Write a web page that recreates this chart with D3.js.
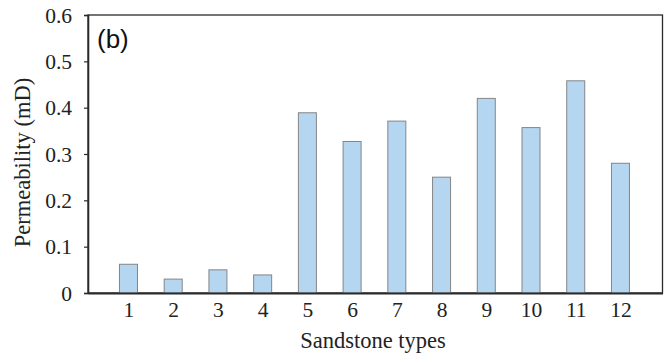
<!DOCTYPE html>
<html>
<head>
<meta charset="utf-8">
<script src="https://cdn.jsdelivr.net/npm/d3@7"></script>
<style>
  body { margin: 0; background: #fff; }
</style>
</head>
<body>
<div id="chart"></div>
<script>
const categories = ['1', '2', '3', '4', '5', '6', '7', '8', '9', '10', '11', '12'];
const permeability = [0.062, 0.030, 0.050, 0.039, 0.389, 0.327, 0.371, 0.250, 0.420, 0.357, 0.458, 0.280];
const yTicks = [0, 0.1, 0.2, 0.3, 0.4, 0.5, 0.6];

const serif = '"Liberation Serif", "Times New Roman", serif';
const svgWidth = 666, svgHeight = 354;
const margin = {top: 15, right: 3.5, bottom: 61, left: 88};
const width = svgWidth - margin.left - margin.right;
const height = svgHeight - margin.top - margin.bottom;

const svg = d3.select('#chart').append('svg')
  .attr('width', svgWidth)
  .attr('height', svgHeight);

const g = svg.append('g')
  .attr('transform', `translate(${margin.left},${margin.top})`);

// categories sit at 1..12, axis runs a bit past both ends
const xScale = d3.scaleLinear()
  .domain([0.095, 12.94])
  .range([0, width]);

const yScale = d3.scaleLinear()
  .domain([0, 0.6])
  .range([height, 0]);

const barWidth = 18;

// frame
g.append('rect')
  .attr('x', 0).attr('y', 0)
  .attr('width', width).attr('height', height)
  .attr('fill', 'none')
  .attr('stroke', '#2a2a2a')
  .attr('stroke-width', 1.3);

g.selectAll('.bar')
  .data(permeability)
  .enter().append('rect')
  .attr('class', 'bar')
  .attr('x', (d, i) => xScale(i + 1) - barWidth / 2)
  .attr('width', barWidth)
  .attr('y', d => yScale(d))
  .attr('height', d => height - yScale(d))
  .attr('fill', '#b5d6f0')
  .attr('stroke', '#858585')
  .attr('stroke-width', 1);

// y axis
const yAxis = d3.axisLeft(yScale)
  .tickValues(yTicks)
  .tickSize(4)
  .tickPadding(12)
  .tickFormat(d => d === 0 ? '0' : d3.format('.1f')(d));

g.append('g')
  .attr('class', 'y axis')
  .call(yAxis)
  .call(a => a.select('.domain').attr('stroke', '#2a2a2a').attr('stroke-width', 1.6))
  .call(a => a.selectAll('.tick line').attr('stroke', '#2a2a2a').attr('stroke-width', 1.2))
  .call(a => a.selectAll('.tick text')
    .attr('font-family', serif)
    .attr('font-size', 21.5)
    .attr('fill', '#222')
    .attr('dy', '0.33em'));

// x axis
const xAxis = d3.axisBottom(xScale)
  .tickValues(categories.map(Number))
  .tickSize(0)
  .tickFormat(d => categories[d - 1]);

g.append('g')
  .attr('class', 'x axis')
  .attr('transform', `translate(0,${height})`)
  .call(xAxis)
  .call(a => a.select('.domain').attr('stroke', '#2a2a2a').attr('stroke-width', 1.8))
  .call(a => a.selectAll('.tick text')
    .attr('font-family', serif)
    .attr('font-size', 21.5)
    .attr('fill', '#222')
    .attr('y', 24)
    .attr('dy', 0));

// axis titles
svg.append('text')
  .attr('x', 373)
  .attr('y', 348)
  .attr('text-anchor', 'middle')
  .attr('font-family', serif)
  .attr('font-size', 22.5)
  .attr('fill', '#222')
  .text('Sandstone types');

svg.append('text')
  .attr('transform', 'translate(30,162.5) rotate(-90)')
  .attr('text-anchor', 'middle')
  .attr('font-family', serif)
  .attr('font-size', 22.5)
  .attr('fill', '#222')
  .text('Permeability (mD)');

// panel label
svg.append('text')
  .attr('x', 97)
  .attr('y', 48)
  .attr('font-family', '"Liberation Sans", Arial, sans-serif')
  .attr('font-size', 26)
  .attr('fill', '#111')
  .text('(b)');
</script>
</body>
</html>
